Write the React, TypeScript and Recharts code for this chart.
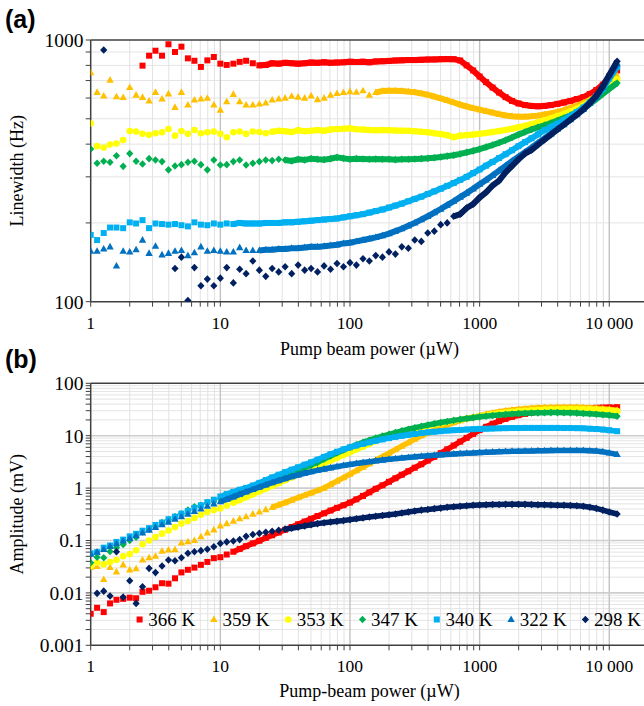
import React from 'react';
import { ScatterChart, Scatter, XAxis, YAxis, CartesianGrid } from 'recharts';

const SERIF = "'Liberation Serif', 'Times New Roman', Times, serif";
const SANS = "'Liberation Sans', Arial, Helvetica, sans-serif";

// Pump beam power (µW) sample positions
const POWER_UW = [
  1, 1.12, 1.26, 1.41, 1.58, 1.78, 2, 2.24, 2.51, 2.82,
  3.16, 3.55, 3.98, 4.47, 5.01, 5.62, 6.31, 7.08, 7.94, 8.91,
  10, 11.2, 12.6, 14.1, 15.8, 17.8, 20, 22.4, 25.1, 28.2,
  31.6, 35.5, 39.8, 44.7, 50.1, 56.2, 63.1, 70.8, 79.4, 89.1,
  100, 112, 126, 141, 158, 178, 200, 224, 251, 282,
  316, 355, 398, 447, 501, 562, 631, 708, 794, 891,
  1000, 1122, 1259, 1413, 1585, 1778, 1995, 2239, 2512, 2818,
  3162, 3548, 3981, 4467, 5012, 5623, 6310, 7079, 7943, 8913,
  10000, 11500,
];

// Panel (a): linewidth (Hz)
const A_366K = [
  null, null, null, null, null, null, null, null, 798, 871,
  910, 871, 963, 900, 943, 851, 833, 789, 836, 861,
  812, 803, 812, 825, 833, 815, 800, 803, 815, 812,
  818, 815, 812, 815, 820, 818, 822, 818, 820, 822,
  826, 824, 826, 822, 828, 830, 832, 835, 836, 838,
  838, 840, 842, 843, 845, 846, 845, 835, 800, 765,
  725, 690, 658, 630, 605, 585, 572, 564, 560, 558,
  560, 564, 570, 577, 585, 595, 605, 622, 644, 675,
  725, 765,
];
const A_359K = [
  750, 631, 611, 703, 607, 603, 659, 616, 604, 585,
  631, 595, 623, 553, 631, 565, 590, 595, 599, 565,
  540, 581, 620, 581, 565, 565, 570, 575, 590, 595,
  600, 610, 605, 600, 612, 592, 600, 615, 625, 630,
  635, 632, 640, 615, 630, 638, 640, 640, 638, 635,
  631, 625, 618, 608, 598, 588, 577, 566, 557, 549,
  542, 535, 528, 521, 515, 511, 509, 509, 511, 514,
  519, 524, 531, 540, 550, 561, 575, 590, 610, 640,
  690, 730,
];
const A_353K = [
  480, 393, 388, 399, 402, 415, 449, 447, 438, 434,
  440, 444, 457, 431, 449, 438, 453, 440, 444, 447,
  438, 425, 444, 447, 438, 447, 445, 440, 446, 450,
  448, 445, 452, 448, 450, 453, 450, 455, 457, 458,
  460, 456, 455, 453, 452, 453, 452, 451, 450, 450,
  448, 446, 444, 440, 437, 433, 425, 431, 433, 435,
  438, 441, 445, 449, 453, 458, 464, 470, 477, 485,
  493, 502, 512, 522, 533, 546, 562, 582, 606, 636,
  672, 708,
];
const A_347K = [
  383, 338, 344, 341, 361, 329, 368, 344, 336, 352,
  348, 343, 319, 330, 334, 341, 344, 334, 319, 348,
  333, 334, 343, 348, 333, 338, 343, 348, 346, 350,
  348, 345, 350, 348, 352, 350, 349, 352, 356, 353,
  350, 352, 351, 350, 351, 350, 350, 349, 350, 350,
  351, 352, 353, 355, 357, 360, 363, 367, 372, 377,
  383, 390, 397, 405, 414, 424, 435, 445, 455, 464,
  472, 482, 492, 503, 515, 530, 548, 570, 595, 622,
  650, 685,
];
const A_340K = [
  180, 172, 183, 192, 192, 191, 201, 199, 205, 191,
  199, 198, 197, 198, 196, 194, 201, 197, 196, 199,
  197, 199, 198, 200, 199, 199, 199, 200, 200, 200,
  201, 201, 202, 203, 204, 205, 206, 207, 208, 210,
  212, 214, 216, 219, 222, 225, 229, 233, 237, 242,
  247, 252, 258, 264, 270, 277, 284, 292, 300, 310,
  320, 331, 342, 354, 366, 379, 393, 407, 421, 436,
  452, 465, 478, 494, 512, 531, 552, 578, 610, 650,
  712, 790,
];
const A_322K = [
  156, 156, 159, 162, 137, 156, 155, 158, 172, 153,
  163, 151, 153, 156, 157, 150, 154, 162, 156, 157,
  156, 155, 155, 161, 157, 157, 157, 158, 158, 159,
  159, 160, 160, 161, 162, 162, 163, 164, 165, 167,
  168, 170, 172, 174, 176, 179, 182, 186, 190, 195,
  200, 206, 212, 219, 226, 234, 242, 251, 260, 270,
  281, 292, 304, 317, 330, 344, 358, 373, 388, 404,
  421, 438, 456, 475, 496, 518, 543, 572, 605, 660,
  730, 810,
];
const A_298K = [
  null, null, 916, null, null, null, null, null, null, null,
  null, null, null, 134, 148, 101, 135, 115, 122, 115,
  123, 135, 118, 133, 128, 143, 132, 125, 134, 130,
  136, 128, 138, 132, 134, 130, 137, 133, 140, 136,
  141, 138, 146, 143, 150, 148, 155, 152, 162, 160,
  172, 170, 183, 186, 197, 200, 212, 216, 228, 236,
  250, 262, 278, 290, 312, 330, 350, 368, 380, 398,
  416, 435, 455, 475, 496, 518, 543, 575, 612, 665,
  735, 830,
];

// Panel (b): amplitude (mV)
const B_366K = [
  0.004, 0.0052, 0.0043, 0.0063, 0.0074, 0.0077, 0.0081, 0.0079, 0.0105, 0.011,
  0.0128, 0.0153, 0.015, 0.019, 0.0246, 0.0276, 0.0304, 0.0343, 0.039, 0.046,
  0.048, 0.054, 0.061, 0.069, 0.078, 0.088, 0.099, 0.112, 0.126, 0.142,
  0.16, 0.181, 0.204, 0.23, 0.26, 0.293, 0.33, 0.373, 0.42, 0.47,
  0.53, 0.61, 0.71, 0.83, 0.97, 1.13, 1.32, 1.54, 1.8, 2.1,
  2.45, 2.85, 3.35, 3.95, 4.65, 5.5, 6.5, 7.7, 9.1, 10.8,
  12.8, 14.8, 16.9, 19, 21, 22.9, 24.6, 26.1, 27.5, 28.7,
  29.8, 30.7, 31.5, 32.2, 32.7, 33.1, 33.5, 33.8, 34.1, 34.4,
  34.7, 35,
];
const B_359K = [
  0.031, 0.032, 0.018, 0.0306, 0.0253, 0.0343, 0.0276, 0.029, 0.0425, 0.047,
  0.05, 0.0627, 0.066, 0.067, 0.09, 0.095, 0.1, 0.118, 0.14, 0.16,
  0.19, 0.21, 0.235, 0.26, 0.285, 0.32, 0.35, 0.39, 0.43, 0.48,
  0.53, 0.59, 0.66, 0.73, 0.81, 0.9, 1.0, 1.17, 1.36, 1.58,
  1.85, 2.15, 2.51, 2.93, 3.41, 3.98, 4.64, 5.41, 6.31, 7.36,
  8.58, 10, 11.3, 12.9, 14.5, 16.1, 17.7, 19.3, 20.9, 22.5,
  24.1, 25.7, 27.2, 28.6, 29.9, 31, 32, 32.8, 33.5, 34,
  34.4, 34.7, 34.9, 35, 35, 34.9, 34.6, 34.2, 33.6, 32.8,
  31.8, 30.5,
];
const B_353K = [
  0.0326, 0.0377, 0.035, 0.039, 0.0425, 0.05, 0.055, 0.065, 0.085, 0.1,
  0.117, 0.135, 0.155, 0.18, 0.21, 0.235, 0.27, 0.31, 0.35, 0.38,
  0.41, 0.464, 0.525, 0.594, 0.671, 0.759, 0.859, 0.971, 1.1, 1.24,
  1.41, 1.59, 1.8, 2.03, 2.3, 2.6, 2.94, 3.33, 3.76, 4.26,
  4.81, 5.44, 6.16, 6.96, 7.88, 8.9, 10.1, 11, 11.8, 12.7,
  13.5, 14.5, 15.5, 16.4, 17.3, 18.2, 19.2, 20.2, 21.3, 22.4,
  23.5, 24.7, 25.8, 26.8, 27.8, 28.6, 29.4, 30, 30.6, 31.1,
  31.5, 31.8, 32, 32.1, 32.2, 32.2, 32, 31.8, 31.5, 31.1,
  30.5, 29.5,
];
const B_347K = [
  0.0377, 0.048, 0.047, 0.062, 0.073, 0.084, 0.1, 0.115, 0.145, 0.165,
  0.19, 0.22, 0.25, 0.285, 0.325, 0.38, 0.44, 0.47, 0.52, 0.57,
  0.62, 0.69, 0.76, 0.84, 0.92, 1.02, 1.13, 1.26, 1.4, 1.56,
  1.74, 1.95, 2.18, 2.45, 2.75, 3.1, 3.6, 4.1, 4.7, 5.35,
  6.0, 6.7, 7.45, 8.2, 9.0, 9.8, 10.6, 11.5, 12.4, 13.3,
  14.2, 15.1, 16, 16.9, 17.8, 18.7, 19.6, 20.5, 21.3, 22.1,
  22.9, 23.6, 24.3, 24.9, 25.5, 26, 26.4, 26.8, 27.1, 27.3,
  27.5, 27.6, 27.6, 27.5, 27.3, 27, 26.6, 26.2, 25.7, 25.1,
  24.5, 23.5,
];
const B_340K = [
  0.057, 0.06, 0.073, 0.08, 0.094, 0.104, 0.12, 0.134, 0.154, 0.172,
  0.198, 0.22, 0.254, 0.285, 0.326, 0.365, 0.42, 0.47, 0.54, 0.6,
  0.69, 0.77, 0.85, 0.93, 1.01, 1.12, 1.26, 1.42, 1.6, 1.8,
  2.02, 2.25, 2.5, 2.8, 3.1, 3.5, 3.95, 4.45, 4.95, 5.5,
  6.0, 6.5, 7.0, 7.5, 8.0, 8.5, 9.0, 9.5, 9.95, 10.4,
  10.8, 11.2, 11.6, 11.9, 12.2, 12.5, 12.7, 12.9, 13.1, 13.3,
  13.5, 13.6, 13.7, 13.8, 13.9, 14, 14, 14.1, 14.1, 14.1,
  14.1, 14.1, 14.1, 14, 14, 13.9, 13.8, 13.6, 13.4, 13.1,
  12.7, 12.2,
];
const B_322K = [
  0.055, 0.06, 0.068, 0.077, 0.087, 0.098, 0.11, 0.124, 0.14, 0.158,
  0.178, 0.2, 0.225, 0.255, 0.285, 0.32, 0.36, 0.4, 0.45, 0.5,
  0.55, 0.61, 0.68, 0.76, 0.85, 0.94, 1.04, 1.15, 1.27, 1.39,
  1.52, 1.65, 1.78, 1.92, 2.05, 2.18, 2.31, 2.44, 2.57, 2.7,
  2.83, 2.95, 3.07, 3.19, 3.31, 3.43, 3.54, 3.65, 3.75, 3.85,
  3.95, 4.05, 4.14, 4.23, 4.32, 4.4, 4.48, 4.56, 4.63, 4.7,
  4.77, 4.83, 4.89, 4.94, 4.99, 5.03, 5.07, 5.1, 5.13, 5.16,
  5.18, 5.2, 5.22, 5.23, 5.24, 5.24, 5.22, 5.18, 5.1, 4.95,
  4.7, 4.4,
];
const B_298K = [
  null, 0.0098, 0.0108, 0.0087, 0.061, 0.0083, 0.017, 0.0063, 0.0131, 0.0294,
  0.0244, 0.0326, 0.0425, 0.041, 0.047, 0.057, 0.061, 0.064, 0.068, 0.076,
  0.088, 0.094, 0.098, 0.104, 0.12, 0.13, 0.137, 0.143, 0.15, 0.157,
  0.165, 0.172, 0.18, 0.19, 0.2, 0.21, 0.218, 0.225, 0.232, 0.24,
  0.25, 0.26, 0.27, 0.28, 0.29, 0.3, 0.31, 0.32, 0.335, 0.35,
  0.365, 0.38, 0.39, 0.405, 0.415, 0.43, 0.44, 0.45, 0.46, 0.47,
  0.475, 0.48, 0.485, 0.485, 0.49, 0.49, 0.49, 0.49, 0.485, 0.48,
  0.48, 0.475, 0.47, 0.47, 0.465, 0.46, 0.45, 0.43, 0.41, 0.38,
  0.35, 0.32,
];

const TEMPS = ['366 K', '359 K', '353 K', '347 K', '340 K', '322 K', '298 K'];
const COLORS = ['#FF0000', '#FFC000', '#FFFF00', '#00B050', '#00B0F0', '#0070C0', '#002060'];
const KINDS = ['square', 'triangle', 'circle', 'diamond', 'square', 'triangle', 'diamond'];

// index from which each series is dense enough to be drawn as a band
const DENSE_A = [26, 44, 28, 30, 22, 26, 56];
const DENSE_B = [22, 28, 22, 22, 20, 20, 30];

const X_TICKS = [
  1, 2, 3, 4, 5, 6, 7, 8, 9,
  10, 20, 30, 40, 50, 60, 70, 80, 90,
  100, 200, 300, 400, 500, 600, 700, 800, 900,
  1000, 2000, 3000, 4000, 5000, 6000, 7000, 8000, 9000,
  10000,
];
const X_LABELS: Record<string, string> = { '1': '1', '10': '10', '100': '100', '1000': '1000', '10000': '10 000' };
const X_MINOR = [
  2, 3, 4, 5, 6, 7, 8, 9,
  20, 30, 40, 50, 60, 70, 80, 90,
  200, 300, 400, 500, 600, 700, 800, 900,
  2000, 3000, 4000, 5000, 6000, 7000, 8000, 9000,
];
const X_MAJOR = [10, 100, 1000, 10000];

const YA_TICKS = [100, 200, 300, 400, 500, 600, 700, 800, 900, 1000];
const YA_LABELS: Record<string, string> = { '100': '100', '1000': '1000' };
const YA_MINOR = [200, 300, 400, 500, 600, 700, 800, 900];

const YB_TICKS = [
  0.001, 0.002, 0.003, 0.004, 0.005, 0.006, 0.007, 0.008, 0.009,
  0.01, 0.02, 0.03, 0.04, 0.05, 0.06, 0.07, 0.08, 0.09,
  0.1, 0.2, 0.3, 0.4, 0.5, 0.6, 0.7, 0.8, 0.9,
  1, 2, 3, 4, 5, 6, 7, 8, 9,
  10, 20, 30, 40, 50, 60, 70, 80, 90,
  100,
];
const YB_LABELS: Record<string, string> = { '0.001': '0.001', '0.01': '0.01', '0.1': '0.1', '1': '1', '10': '10', '100': '100' };
const YB_MINOR = [
  0.002, 0.003, 0.004, 0.005, 0.006, 0.007, 0.008, 0.009,
  0.02, 0.03, 0.04, 0.05, 0.06, 0.07, 0.08, 0.09,
  0.2, 0.3, 0.4, 0.5, 0.6, 0.7, 0.8, 0.9,
  2, 3, 4, 5, 6, 7, 8, 9,
  20, 30, 40, 50, 60, 70, 80, 90,
];
const YB_MAJOR = [0.01, 0.1, 1, 10];

function Marker({ cx, cy, kind, color }: { cx: number; cy: number; kind: string; color: string }) {
  if (cx == null || cy == null || Number.isNaN(cx) || Number.isNaN(cy)) return <g />;
  if (kind === 'square') return <rect x={cx - 3} y={cy - 3} width={6} height={6} fill={color} />;
  if (kind === 'triangle')
    return <polygon points={`${cx},${cy - 4} ${cx + 3.7},${cy + 2.6} ${cx - 3.7},${cy + 2.6}`} fill={color} />;
  if (kind === 'circle') return <circle cx={cx} cy={cy} r={3.3} fill={color} />;
  return <polygon points={`${cx},${cy - 3.8} ${cx + 3.6},${cy} ${cx},${cy + 3.8} ${cx - 3.6},${cy}`} fill={color} />;
}

function buildPoints(ys: (number | null)[], from: number) {
  const out: { x: number; y: number }[] = [];
  for (let i = from; i < POWER_UW.length; i++) {
    const y = ys[i];
    if (y != null) out.push({ x: POWER_UW[i], y });
  }
  return out;
}

type PanelProps = {
  series: (number | null)[][];
  dense: number[];
  bandWidth: number;
  yDomain: [number, number];
  yTicks: number[];
  yLabels: Record<string, string>;
  yMinor: number[];
  yMajor: number[];
  yTitle: string;
  xTitle: string;
  height: number;
  marginTop: number;
  xAxisHeight: number;
  xTitleDy: number;
};

function Panel(p: PanelProps) {
  const yTitleRender = (props: any) => {
    const vb = props.viewBox || {};
    const x = (vb.x ?? 0) + 23.5;
    const y = (vb.y ?? 0) + (vb.height ?? 0) / 2;
    return (
      <text x={x} y={y} transform={`rotate(-90, ${x}, ${y})`} textAnchor="middle" fontFamily={SERIF} fontSize={18} fill="#000">
        {p.yTitle}
      </text>
    );
  };
  const xTitleRender = (props: any) => {
    const vb = props.viewBox || {};
    const x = (vb.x ?? 0) + (vb.width ?? 0) / 2;
    const y = (vb.y ?? 0) + p.xTitleDy;
    return (
      <text x={x} y={y} textAnchor="middle" fontFamily={SERIF} fontSize={18} fill="#000">
        {p.xTitle}
      </text>
    );
  };
  const items: React.ReactNode[] = [];
  p.series.forEach((ys, i) => {
    items.push(
      <Scatter
        key={`line-${i}`}
        name={`${TEMPS[i]} band`}
        data={buildPoints(ys, p.dense[i])}
        fill={COLORS[i]}
        line={{ stroke: COLORS[i], strokeWidth: p.bandWidth }}
        lineType="joint"
        shape={() => <g />}
        isAnimationActive={false}
        legendType="none"
      />
    );
    items.push(
      <Scatter
        key={`pts-${i}`}
        name={TEMPS[i]}
        data={buildPoints(ys, 0)}
        fill={COLORS[i]}
        shape={(props: any) => <Marker cx={props.cx} cy={props.cy} kind={KINDS[i]} color={COLORS[i]} />}
        isAnimationActive={false}
      />
    );
  });
  return (
    <ScatterChart width={660} height={p.height} margin={{ top: p.marginTop, right: 11.7, bottom: 0, left: 0 }}>
      <CartesianGrid horizontal={false} verticalValues={X_MINOR} stroke="#e2e2e2" strokeWidth={1} />
      {p.yMinor.length > 0 && (
        <CartesianGrid vertical={false} horizontalValues={p.yMinor} stroke="#e4e4e4" strokeWidth={1} />
      )}
      <CartesianGrid horizontal={false} verticalValues={X_MAJOR} stroke="#c2c2c2" strokeWidth={1.4} />
      {p.yMajor.length > 0 && (
        <CartesianGrid vertical={false} horizontalValues={p.yMajor} stroke="#cdcdcd" strokeWidth={1.6} />
      )}
      <CartesianGrid vertical={false} horizontalValues={[p.yDomain[1]]} stroke="#404040" strokeWidth={1.5} />
      <XAxis
        type="number"
        dataKey="x"
        scale="log"
        domain={[1, 20000]}
        allowDataOverflow
        ticks={X_TICKS}
        interval={0}
        tickFormatter={(v: number) => X_LABELS[String(v)] ?? ''}
        height={p.xAxisHeight}
        tickSize={5}
        tickMargin={9.6}
        tick={{ fill: '#000', fontSize: 17.5, fontFamily: SERIF }}
        stroke="#404040"
        axisLine={{ stroke: '#404040', strokeWidth: 1.5 }}
        tickLine={{ stroke: '#404040' }}
        label={xTitleRender}
      />
      <YAxis
        type="number"
        dataKey="y"
        scale="log"
        domain={p.yDomain}
        allowDataOverflow
        ticks={p.yTicks}
        interval={0}
        tickFormatter={(v: number) => p.yLabels[String(v)] ?? ''}
        width={90.7}
        tickSize={5}
        tickMargin={2.2}
        tick={{ fill: '#000', fontSize: 19.5, fontFamily: SERIF }}
        stroke="#404040"
        axisLine={{ stroke: '#404040', strokeWidth: 1.5 }}
        tickLine={{ stroke: '#404040' }}
        label={yTitleRender}
      />
      {items}
    </ScatterChart>
  );
}

export default function App() {
  return (
    <div style={{ position: 'fixed', left: 0, top: 0, width: 644, height: 706, overflow: 'hidden', background: '#fff' }}>
      <div style={{ position: 'absolute', left: 0, top: 0 }}>
        <Panel
          series={[A_366K, A_359K, A_353K, A_347K, A_340K, A_322K, A_298K]}
          dense={DENSE_A}
          bandWidth={6}
          yDomain={[100, 1000]}
          yTicks={YA_TICKS}
          yLabels={YA_LABELS}
          yMinor={YA_MINOR}
          yMajor={[]}
          yTitle="Linewidth (Hz)"
          xTitle="Pump beam power (µW)"
          height={360}
          marginTop={40}
          xAxisHeight={58.3}
          xTitleDy={52.8}
        />
      </div>
      <div style={{ position: 'absolute', left: 0, top: 340 }}>
        <Panel
          series={[B_366K, B_359K, B_353K, B_347K, B_340K, B_322K, B_298K]}
          dense={DENSE_B}
          bandWidth={5.5}
          yDomain={[0.001, 100]}
          yTicks={YB_TICKS}
          yLabels={YB_LABELS}
          yMinor={YB_MINOR}
          yMajor={YB_MAJOR}
          yTitle="Amplitude (mV)"
          xTitle="Pump-beam power (µW)"
          height={366}
          marginTop={43.3}
          xAxisHeight={60.7}
          xTitleDy={51.2}
        />
      </div>
      <svg width={644} height={706} style={{ position: 'absolute', left: 0, top: 0, pointerEvents: 'none' }}>
        <text x={5} y={28} fontFamily={SANS} fontWeight="bold" fontSize={25} fill="#000">(a)</text>
        <text x={5} y={368} fontFamily={SANS} fontWeight="bold" fontSize={25} fill="#000">(b)</text>
        {TEMPS.map((t, i) => {
          const cx = 139.6 + i * 74.3;
          return (
            <g key={t}>
              <Marker cx={cx} cy={619.5} kind={KINDS[i]} color={COLORS[i]} />
              <text x={cx + 8.6} y={626} fontFamily={SERIF} fontSize={19} fill="#000">{t}</text>
            </g>
          );
        })}
      </svg>
    </div>
  );
}
